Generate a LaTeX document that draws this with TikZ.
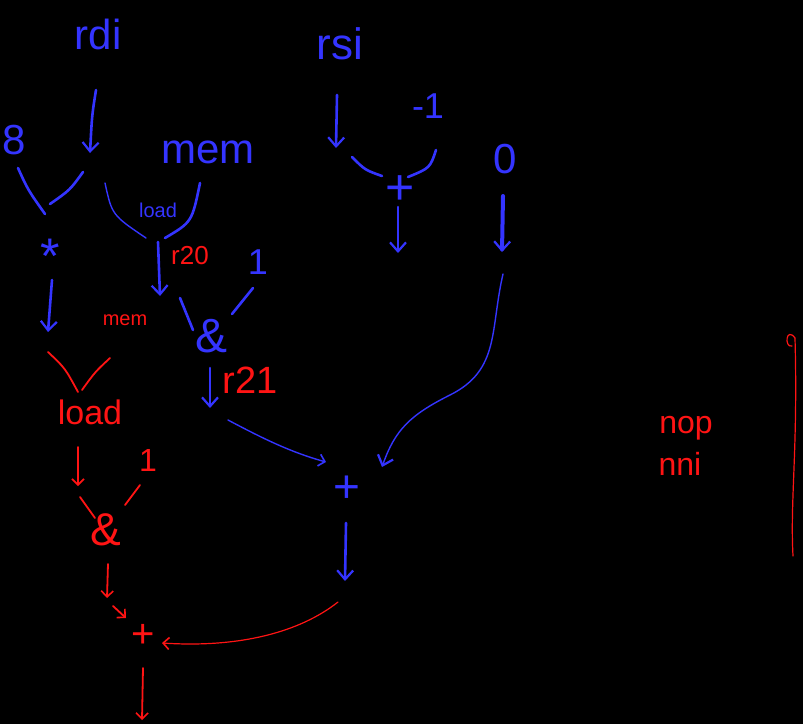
\documentclass[tikz,border=0pt]{standalone}
\usepackage{fontspec}
\setmainfont{Liberation Sans}
\usetikzlibrary{arrows.meta}
\definecolor{penblue}{RGB}{52,52,255}
\definecolor{penred}{RGB}{255,20,20}
\newcommand\fsz[1]{\fontsize{#1}{#1}\selectfont}
\tikzset{
  bt/.style={text=penblue, inner sep=0pt},
  rt/.style={text=penred, inner sep=0pt},
  bl/.style={draw=penblue, line width=2.6pt, line cap=round, line join=round},
  blthin/.style={draw=penblue, line width=1.4pt, line cap=round, line join=round},
  rl/.style={draw=penred, line width=1.8pt, line cap=round, line join=round},
  rlthin/.style={draw=penred, line width=1.2pt, line cap=round, line join=round},
  barb/.style={-{Straight Barb[length=9pt,width=16pt,line width=2.2pt]}},
  sbarb/.style={-{Straight Barb[length=6pt,width=12pt,line width=1.6pt]}},
}
\begin{document}
\begin{tikzpicture}[x=1pt,y=-1pt]
\fill[black] (0,0) rectangle (803,724);
\useasboundingbox (0,0) rectangle (803,724);

% ---------- blue text nodes ----------
\node[bt, font=\fsz{42}] (rdi) at (98,34) {rdi};
\node[bt, font=\fsz{42}] (eight) at (14,140) {8};
\node[bt, font=\fsz{42}] (mem) at (208,152) {mem};
\node[bt, font=\fsz{50}] (star) at (50,256) {*};
\node[bt, font=\fsz{20}] (loadb) at (158,210) {load};
\node[bt, font=\fsz{36}] (oneb) at (258,262) {1};
\node[bt, font=\fsz{48}] (ampb) at (212,336) {\&};
\node[bt, font=\fsz{44}] (rsi) at (340,44) {rsi};
\node[bt, font=\fsz{36}] (mone) at (428,106) {-1};
\node[bt, font=\fsz{50}] (plusa) at (400,190) {+};
\node[bt, font=\fsz{42}] (zero) at (505,159) {0};
\node[bt, font=\fsz{46}] (plusb) at (347,489) {+};

% ---------- red text nodes ----------
\node[rt, font=\fsz{26}] (r20) at (190,256) {r20};
\node[rt, font=\fsz{38}] (r21) at (250,380) {r21};
\node[rt, font=\fsz{20}] (memr) at (125,320) {mem};
\node[rt, font=\fsz{34}] (loadr) at (90,412) {load};
\node[rt, font=\fsz{32}] (oner) at (148,460) {1};
\node[rt, font=\fsz{46}] (ampr) at (106,530) {\&};
\node[rt, font=\fsz{40}] (plusr) at (143,636) {+};
\node[rt, font=\fsz{32}] (nop) at (686,428) {nop};
\node[rt, font=\fsz{32}] (nni) at (680,464) {nni};

% ---------- named stroke ends ----------
\coordinate (rdiA) at (96,90);    \coordinate (rdiB) at (90,153);
\coordinate (eA) at (18,168);     \coordinate (eB) at (45,214);
\coordinate (dA) at (83,172);     \coordinate (dB) at (50,204);
\coordinate (stA) at (52,280);    \coordinate (stB) at (48,332);
\coordinate (ldA) at (105,183);   \coordinate (ldB) at (146,238);
\coordinate (lmA) at (200,183);   \coordinate (lmB) at (165,238);
\coordinate (ldC) at (158,242);   \coordinate (ldD) at (160,296);
\coordinate (aA) at (180,298);    \coordinate (aB) at (193,330);
\coordinate (oA) at (253,288);    \coordinate (oB) at (232,314);
\coordinate (amA) at (210,368);   \coordinate (amB) at (210,408);
\coordinate (c1A) at (228,420);   \coordinate (c1B) at (326,462);
\coordinate (rsA) at (337,95);    \coordinate (rsB) at (336,148);
\coordinate (pA) at (352,157);    \coordinate (pB) at (382,176);
\coordinate (mA) at (436,150);    \coordinate (mB) at (408,177);
\coordinate (paA) at (398,207);   \coordinate (paB) at (398,253);
\coordinate (zA) at (503,196);    \coordinate (zB) at (502,252);
\coordinate (c2A) at (503,274);   \coordinate (c2B) at (382,467);
\coordinate (pbA) at (346,523);   \coordinate (pbB) at (345,581);
% red
\coordinate (rmA) at (48,352);    \coordinate (rmB) at (78,392);
\coordinate (rnA) at (110,358);   \coordinate (rnB) at (82,390);
\coordinate (rlA) at (78,447);    \coordinate (rlB) at (78,486);
\coordinate (roA) at (80,497);    \coordinate (roB) at (95,518);
\coordinate (rpA) at (140,485);   \coordinate (rpB) at (125,505);
\coordinate (raA) at (108,564);   \coordinate (raB) at (107,598);
\coordinate (rtA) at (113,606);   \coordinate (rtB) at (126,618);
\coordinate (c3A) at (338,602);   \coordinate (c3B) at (162,643);
\coordinate (rfA) at (143,668);   \coordinate (rfB) at (142,720);
\coordinate (vA) at (795,338);    \coordinate (vB) at (793,556);

% ---------- blue strokes ----------
\draw[bl, barb] (rdiA) .. controls (92,115) .. (rdiB);
\draw[bl] (eA) .. controls (28,190) .. (eB);
\draw[bl] (dA) .. controls (70,190) .. (dB);
\draw[bl, barb] (stA) -- (stB);
\draw[blthin] (ldA) .. controls (112,215) .. (ldB);
\draw[bl] (lmA) .. controls (192,222) .. (lmB);
\draw[bl, barb] (ldC) -- (ldD);
\draw[bl] (aA) -- (aB);
\draw[bl] (oA) -- (oB);
\draw[bl, barb] (amA) -- (amB);
\draw[blthin, sbarb] (c1A) .. controls (262,438) and (290,452) .. (c1B);
\draw[bl, barb] (rsA) -- (rsB);
\draw[bl] (pA) .. controls (365,170) .. (pB);
\draw[bl] (mA) .. controls (430,168) .. (mB);
\draw[bl, barb] (paA) -- (paB);
\draw[line width=4pt, draw=penblue, line cap=round, barb] (zA) -- (zB);
\draw[blthin, barb] (c2A) .. controls (490,330) and (500,370) .. (450,395)
      .. controls (410,415) and (395,430) .. (c2B);
\draw[bl, barb] (pbA) -- (pbB);

% ---------- red strokes ----------
\draw[rl] (rmA) .. controls (65,368) .. (rmB);
\draw[rl] (rnA) .. controls (95,372) .. (rnB);
\draw[rl, sbarb] (rlA) -- (rlB);
\draw[rl] (roA) -- (roB);
\draw[rl] (rpA) -- (rpB);
\draw[rl, sbarb] (raA) -- (raB);
\draw[rl, sbarb] (rtA) -- (rtB);
\draw[rlthin, sbarb] (c3A) .. controls (300,632) and (240,648) .. (c3B);
\draw[rl, sbarb] (rfA) -- (rfB);
\draw[rlthin] (vA) .. controls (798,450) and (790,500) .. (vB);
\draw[rlthin] (vA) .. controls (786,326) and (784,348) .. (792,346);
\end{tikzpicture}
\end{document}
